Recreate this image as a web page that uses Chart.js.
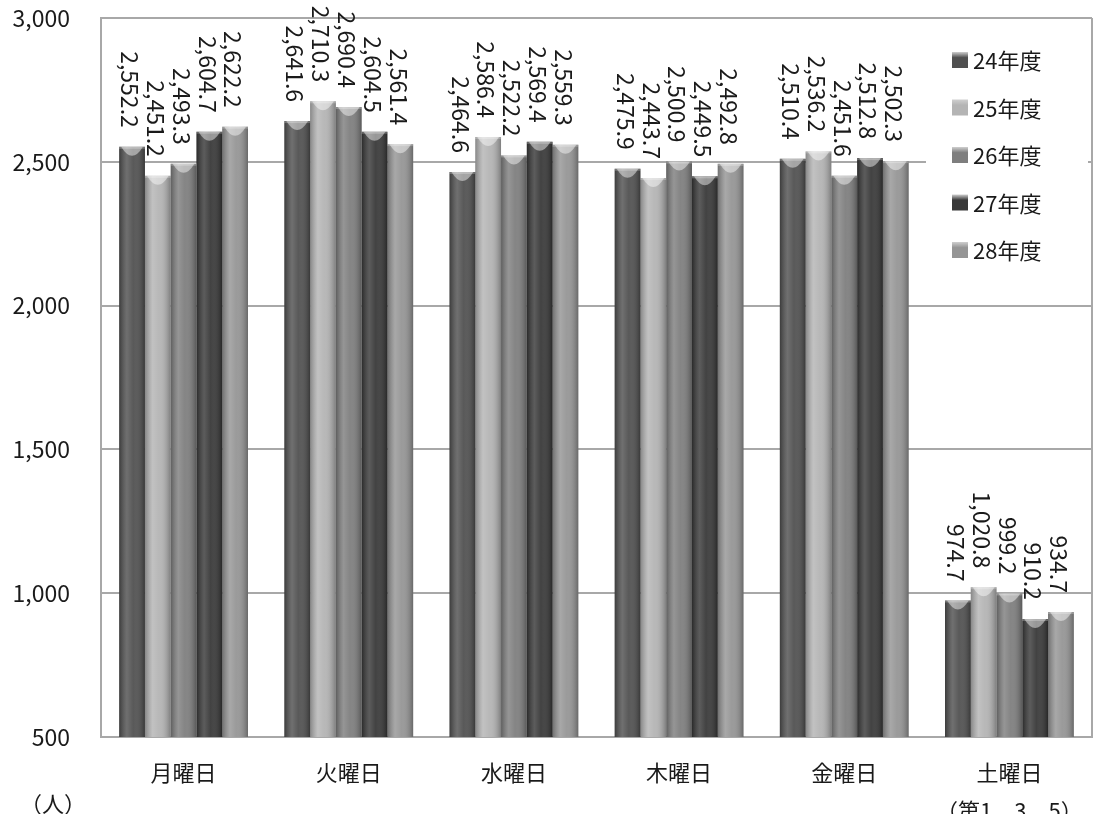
<!DOCTYPE html>
<html>
<head>
<meta charset="utf-8">
<script src="https://cdn.jsdelivr.net/npm/chart.js@4.4.1/dist/chart.umd.min.js"></script>
<style>
  html, body { margin: 0; padding: 0; background: #fff; overflow: hidden; }
  #wrap { width: 1114px; height: 814px; }
</style>
</head>
<body>
<div id="wrap"><canvas id="chart"></canvas></div>
<script>
const days = ["月曜日", "火曜日", "水曜日", "木曜日", "金曜日", ["土曜日", "（第1、3、5）"]];
const years = ["24年度", "25年度", "26年度", "27年度", "28年度"];
const fy24 = [2552.2, 2641.6, 2464.6, 2475.9, 2510.4, 974.7];
const fy25 = [2451.2, 2710.3, 2586.4, 2443.7, 2536.2, 1020.8];
const fy26 = [2493.3, 2690.4, 2522.2, 2500.9, 2451.6, 999.2];
const fy27 = [2604.7, 2604.5, 2569.4, 2449.5, 2512.8, 910.2];
const fy28 = [2622.2, 2561.4, 2559.3, 2492.8, 2502.3, 934.7];
const yTicks = [500, 1000, 1500, 2000, 2500, 3000];

const barColors = ["#505050", "#b4b4b4", "#7e7e7e", "#383838", "#959595"];
const font = '"Noto Sans CJK JP", "Noto Sans", sans-serif';

function fmt(v) {
  return v.toLocaleString("en-US", { minimumFractionDigits: 1, maximumFractionDigits: 1 });
}

// right side of the plot box
const framePlugin = {
  id: "frame",
  beforeDatasetsDraw(chart) {
    const a = chart.chartArea;
    const c = chart.ctx;
    c.save();
    c.strokeStyle = "#a8a8a8";
    c.lineWidth = 2;
    c.beginPath();
    c.moveTo(a.right, a.top);
    c.lineTo(a.right, a.bottom);
    c.stroke();
    c.restore();
  },
};

// shading over each bar so they look like the rounded 3D bars
const shadePlugin = {
  id: "shade",
  afterDatasetsDraw(chart) {
    const c = chart.ctx;
    const a = chart.chartArea;
    chart.data.datasets.forEach((ds, i) => {
      chart.getDatasetMeta(i).data.forEach((bar) => {
        const left = bar.x - bar.width / 2;
        const w = bar.width;
        const top = bar.y;
        const h = Math.min(bar.base, a.bottom) - bar.y;
        let g = c.createLinearGradient(left, 0, left + w, 0);
        g.addColorStop(0, "rgba(0,0,0,0.25)");
        g.addColorStop(0.3, "rgba(255,255,255,0.18)");
        g.addColorStop(0.55, "rgba(255,255,255,0.05)");
        g.addColorStop(1, "rgba(0,0,0,0.3)");
        c.save();
        c.fillStyle = g;
        c.fillRect(left, top, w, h);
        // top cap
        c.fillStyle = "rgba(255,255,255,0.45)";
        c.beginPath();
        c.moveTo(left + 2, top);
        c.lineTo(left + w - 2, top);
        c.quadraticCurveTo(left + w / 2, top + 18, left + 2, top);
        c.fill();
        c.fillStyle = "rgba(255,255,255,0.25)";
        c.fillRect(left, top, w, 2);
        c.restore();
      });
    });
  },
};

// vertical value labels above bars
const labelPlugin = {
  id: "valueLabels",
  afterDatasetsDraw(chart) {
    const c = chart.ctx;
    c.save();
    c.font = "23px " + font;
    c.fillStyle = "#1a1a1a";
    c.textAlign = "right";
    c.textBaseline = "middle";
    chart.data.datasets.forEach((ds, i) => {
      chart.getDatasetMeta(i).data.forEach((bar, j) => {
        c.save();
        c.translate(bar.x - 2, bar.y - 19);
        c.rotate(Math.PI / 2);
        c.fillText(fmt(ds.data[j]), 0, 0);
        c.restore();
      });
    });
    c.restore();
  },
};

// legend box inside plot area and unit text
const legendPlugin = {
  id: "boxLegend",
  afterDraw(chart) {
    const c = chart.ctx;
    const a = chart.chartArea;
    c.save();
    c.fillStyle = "#fff";
    c.fillRect(a.right - 166, a.top + 14, 162, 240);
    c.font = "22px " + font;
    c.textBaseline = "middle";
    c.textAlign = "left";
    chart.data.datasets.forEach((ds, i) => {
      const x = a.right - 140;
      const y = a.top + 42 + i * 47.5;
      let g = c.createLinearGradient(x, y - 8, x, y + 8);
      g.addColorStop(0, "#cfcfcf");
      g.addColorStop(0.35, ds.backgroundColor);
      g.addColorStop(1, ds.backgroundColor);
      c.fillStyle = g;
      c.fillRect(x, y - 8, 16, 16);
      c.fillStyle = "#1a1a1a";
      c.fillText(ds.label, x + 21, y + 1);
    });
    c.fillText("（人）", 20, 804);
    c.restore();
  },
};

const datasets = [fy24, fy25, fy26, fy27, fy28].map((d, i) => ({
  label: years[i],
  data: d,
  backgroundColor: barColors[i],
  borderWidth: 0,
  categoryPercentage: 0.78,
  barPercentage: 1.0,
}));

new Chart(document.getElementById("chart"), {
  type: "bar",
  data: { labels: days, datasets: datasets },
  plugins: [framePlugin, shadePlugin, labelPlugin, legendPlugin],
  options: {
    responsive: true,
    maintainAspectRatio: false,
    animation: false,
    layout: { padding: { top: 18, right: 22, left: 0, bottom: 0 } },
    plugins: { legend: { display: false }, tooltip: { enabled: false } },
    scales: {
      x: {
        grid: { display: false, drawTicks: false },
        border: { display: true, color: "#a8a8a8", width: 2 },
        ticks: {
          color: "#1a1a1a",
          font: { family: font, size: 22, lineHeight: 1.75 },
          padding: 16,
          maxRotation: 0,
        },
        afterFit(scale) {
          scale.height = 77;
          scale.paddingLeft = 0;
          scale.paddingRight = 0;
        },
      },
      y: {
        min: 500,
        max: 3000,
        afterBuildTicks(scale) { scale.ticks = yTicks.map((v) => ({ value: v })); },
        grid: { color: "#a8a8a8", lineWidth: 2, drawTicks: false },
        border: { display: true, color: "#a8a8a8", width: 2 },
        ticks: {
          color: "#1a1a1a",
          font: { family: font, size: 23 },
          padding: 31,
          callback: (v) => v.toLocaleString("en-US"),
        },
        afterFit(scale) {
          scale.width = 101;
          scale.paddingTop = 0;
          scale.paddingBottom = 0;
        },
      },
    },
  },
});
</script>
</body>
</html>
